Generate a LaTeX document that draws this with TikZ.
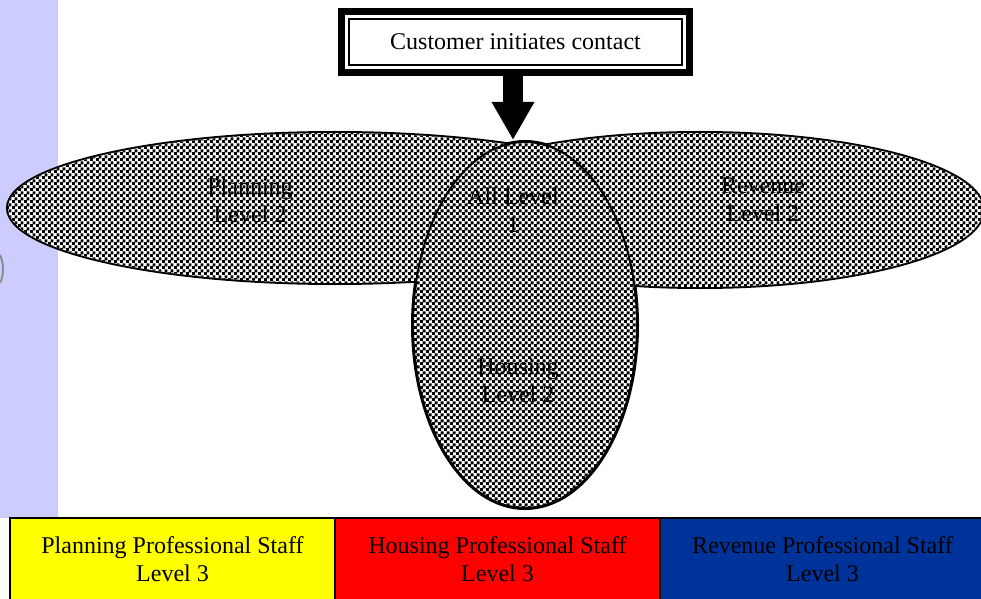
\documentclass[tikz,border=0pt]{standalone}
\usepackage{fontspec}
\setmainfont{Liberation Serif}
\usetikzlibrary{arrows.meta, positioning, shapes.geometric, fit, patterns}
\definecolor{sidebar}{RGB}{204,204,255}
\definecolor{planyellow}{RGB}{255,255,0}
\definecolor{housered}{RGB}{255,0,0}
\definecolor{revblue}{RGB}{0,51,153}
% small black/white checks for the service zones
\pgfdeclarepatternformonly{checks}{\pgfpointorigin}{\pgfqpoint{6pt}{6pt}}{\pgfqpoint{6pt}{6pt}}{%
  \pgfpathrectangle{\pgfpointorigin}{\pgfqpoint{3.4pt}{3.4pt}}%
  \pgfpathrectangle{\pgfqpoint{3pt}{3pt}}{\pgfqpoint{3.4pt}{3.4pt}}%
  \pgfusepath{fill}}
\tikzset{
  contactbox/.style={rectangle, draw, line width=2pt, fill=white,
                     minimum width=333pt, minimum height=46pt, inner sep=0pt},
  contactframe/.style={rectangle, draw, line width=7pt, inner sep=6.5pt},
  zonetext/.style={align=center, text=black},
  staffbox/.style={rectangle, draw, line width=2pt, minimum width=325pt,
                   minimum height=82pt, align=center, inner sep=0pt},
  bigarrow/.style={line width=20pt, -{Triangle[length=38pt, width=40pt]}},
}

\begin{document}
\begin{tikzpicture}[x=1pt, y=1pt, every node/.style={font=\fontsize{24}{28}\selectfont}]
  \useasboundingbox (0,0) rectangle (981,598);
  \fill[sidebar] (0,80) rectangle (58,598);
  \draw[black!45, line width=2pt] (0,343) .. controls (4,335) and (4,322) .. (0,315);

  % zones: outlines first, checks on top so only the outer rim shows
  \coordinate (planc)  at (335,390);
  \coordinate (revc)   at (700,388);
  \coordinate (housec) at (525,273);
  \foreach \c/\rx/\ry in {planc/327/75, revc/283/77, housec/112/183}
    \draw[line width=4pt] (\c) ellipse [x radius=\rx pt, y radius=\ry pt];
  \foreach \c/\rx/\ry in {planc/327/75, revc/283/77, housec/112/183}
    \fill[white, postaction={pattern=checks, pattern color=black}]
      (\c) ellipse [x radius=\rx pt, y radius=\ry pt];
  \draw[line width=2pt] (housec) ellipse [x radius=112pt, y radius=183pt];

  \node[zonetext] (planlabel)  at (250,398) {Planning\\Level 2};
  \node[zonetext] (revlabel)   at (763,398) {Revenue\\Level 2};
  \node[zonetext] (alllabel)   at (513,388) {All Level\\1};
  \node[zonetext] (houselabel) at (518,217) {Housing\\Level 2};

  % first contact and the way in
  \node[contactbox] (contact) at (515.5,556) {Customer initiates contact};
  \node[contactframe, fit=(contact)] (contactouter) {};
  \coordinate (tip) at (513,458);
  \draw[bigarrow] (contactouter.south -| tip) -- (tip);

  % professional staff row
  \node[staffbox, fill=planyellow] (staffplan) at (172.5,39)
    {Planning Professional Staff\\Level 3};
  \node[staffbox, fill=housered, right=-2pt of staffplan] (staffhouse)
    {Housing Professional Staff\\Level 3};
  \node[staffbox, fill=revblue, right=-2pt of staffhouse] (staffrev)
    {Revenue Professional Staff\\Level 3};
\end{tikzpicture}
\end{document}
